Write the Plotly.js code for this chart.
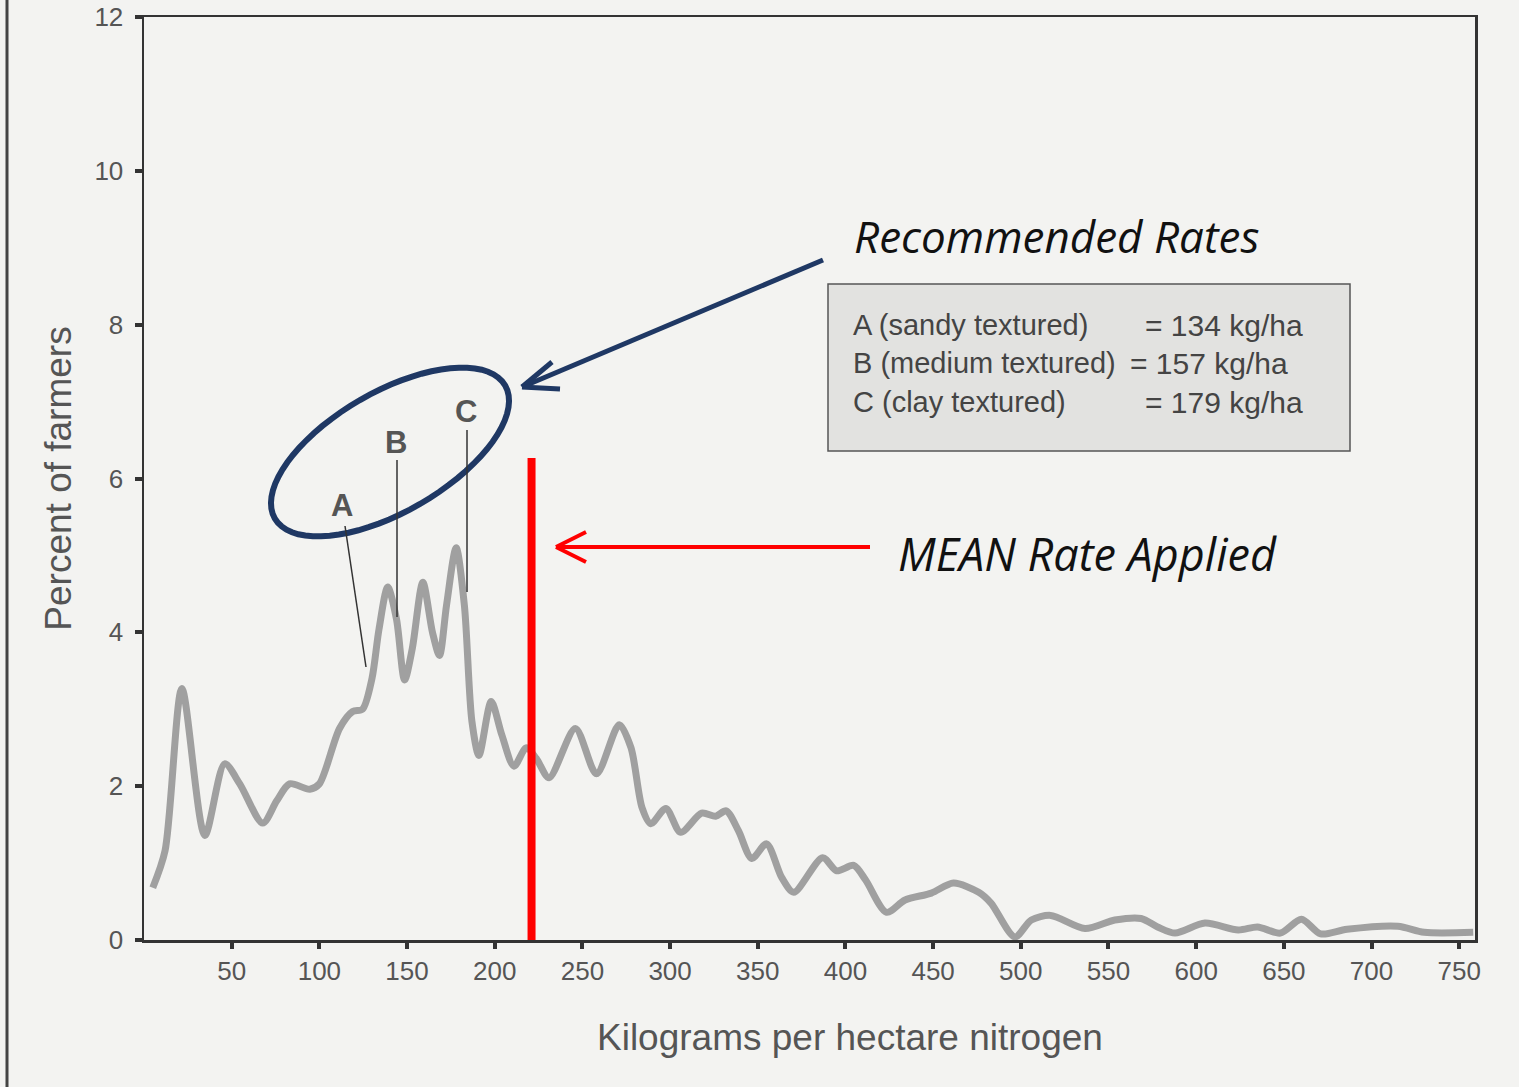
<!DOCTYPE html>
<html>
<head>
<meta charset="utf-8">
<script src="https://cdn.plot.ly/plotly-3.0.1.min.js"></script>
<style>html,body{margin:0;padding:0;background:#f3f3f1;}#chart{width:1519px;height:1087px;}</style>
</head>
<body>
<div id="chart"></div>
<script>
// Data
const nitrogen = [5, 12, 21.6, 34.7, 46, 54.6, 67.7, 75.7, 83, 94.5, 100, 111.5, 119, 124.6, 130, 134, 139, 144, 148.6, 153, 159, 164.5, 168.5, 172.5, 178, 182.7, 187, 191, 198, 204, 211, 218, 223.7, 231, 246, 258, 271, 277.7, 284, 289, 297.6, 306, 318, 326, 332, 339, 346.6, 355, 363.7, 370.5, 387, 395, 404.7, 411.5, 423.4, 434, 449, 461.6, 476, 483, 496.6, 506, 517, 536.6, 553.6, 568.6, 578, 588, 605, 624, 635, 648, 660, 671, 686, 715, 730, 758];
const percent = [0.68, 1.16, 3.27, 1.36, 2.29, 2.03, 1.52, 1.81, 2.03, 1.96, 2.03, 2.75, 2.97, 3.0, 3.40, 4.04, 4.59, 4.17, 3.38, 3.79, 4.65, 4.0, 3.7, 4.35, 5.10, 4.35, 2.84, 2.40, 3.1, 2.67, 2.26, 2.5, 2.36, 2.11, 2.75, 2.16, 2.80, 2.5, 1.72, 1.51, 1.71, 1.4, 1.65, 1.61, 1.68, 1.42, 1.06, 1.25, 0.81, 0.62, 1.07, 0.9, 0.97, 0.78, 0.36, 0.52, 0.61, 0.74, 0.62, 0.48, 0.04, 0.26, 0.32, 0.15, 0.26, 0.28, 0.17, 0.09, 0.22, 0.13, 0.17, 0.09, 0.27, 0.08, 0.14, 0.18, 0.10, 0.10];
const xTicks = [50, 100, 150, 200, 250, 300, 350, 400, 450, 500, 550, 600, 650, 700, 750];
const yTicks = [0, 2, 4, 6, 8, 10, 12];
const meanRate = 221;
const recLabels = ["A", "B", "C"];
const recRates = [134, 157, 179];
const recTextLeft = ["A (sandy textured)", "B (medium textured)", "C (clay textured)"];
const recTextRight = ["= 134 kg/ha", "= 157 kg/ha", "= 179 kg/ha"];
const xTitle = "Kilograms per hectare nitrogen";
const yTitle = "Percent of farmers";

// pixel helpers for decorations (plot area: x 144..1475, y T..940)
const L = 144, R = 1475, T = 17, B = 940, XMAX = 759, YMAX = 12;
const px2x = p => (p - L) / (R - L) * XMAX;
const py2y = p => (B - p) / (B - T) * YMAX;
const px2paper = p => (p - L) / (R - L);
const py2paper = p => (B - p) / (B - T);

function ellipsePath(cx, cy, a, b, deg) {
  const th = deg * Math.PI / 180;
  let d = "";
  for (let i = 0; i <= 72; i++) {
    const t = i / 72 * 2 * Math.PI;
    const ex = a * Math.cos(t), ey = b * Math.sin(t);
    const X = cx + ex * Math.cos(th) + ey * Math.sin(th);
    const Y = cy - ex * Math.sin(th) + ey * Math.cos(th);
    d += (i === 0 ? "M" : "L") + px2x(X).toFixed(3) + "," + py2y(Y).toFixed(3);
  }
  return d + "Z";
}
function line(x0, y0, x1, y1, color, w) {
  return {type: "line", xref: "x", yref: "y", x0: px2x(x0), y0: py2y(y0), x1: px2x(x1), y1: py2y(y1),
          line: {color: color, width: w}, layer: "above"};
}

const navy = "#1f3864";
const shapes = [
  {type: "line", xref: "x", yref: "y", x0: meanRate, x1: meanRate, y0: 0, y1: py2y(458), line: {color: "#ff0000", width: 8}},
  {type: "path", xref: "x", yref: "y", path: ellipsePath(390, 452, 133, 60, 30), line: {color: navy, width: 6}},
  line(823, 260, 522, 387, navy, 5),
  line(522, 387, 552, 362, navy, 5),
  line(522, 387, 560, 389, navy, 5),
  line(870, 547, 556, 547, "#ff0000", 4),
  line(556, 547, 586, 532, "#ff0000", 4),
  line(556, 547, 586, 562, "#ff0000", 4),
  line(345, 526, 366, 667, "#333", 1.5),
  line(397, 460, 397, 617, "#333", 1.5),
  line(467, 430, 467, 592, "#333", 1.5),
  {type: "rect", xref: "x", yref: "y", x0: px2x(828), x1: px2x(1350), y0: py2y(451), y1: py2y(284),
   fillcolor: "#e2e2e0", line: {color: "#555", width: 1.5}, layer: "above"},
  // scan border at the left edge of the page
  {type: "line", xref: "paper", yref: "paper", x0: px2paper(7), x1: px2paper(7), y0: py2paper(1087), y1: py2paper(0),
   line: {color: "#444", width: 3}}
];

const annFont = {family: "Liberation Sans, Arial, sans-serif", size: 29, color: "#444"};
const annotations = [];
const labelPos = [[342, 505], [396, 442], [466, 411]];
recLabels.forEach((t, i) => {
  annotations.push({xref: "x", yref: "y", x: px2x(labelPos[i][0]), y: py2y(labelPos[i][1]), text: "<b>" + t + "</b>",
    showarrow: false, font: {family: "Liberation Sans, Arial, sans-serif", size: 31, color: "#555"}});
});
const rowY = [325, 363, 402];
const eqX = [1143, 1128, 1143];
recTextLeft.forEach((t, i) => {
  annotations.push({xref: "x", yref: "y", x: px2x(851), y: py2y(rowY[i]), xanchor: "left", text: t, showarrow: false, font: annFont});
  annotations.push({xref: "x", yref: "y", x: px2x(eqX[i]), y: py2y(rowY[i]), xanchor: "left", text: recTextRight[i], showarrow: false,
    font: {family: "Liberation Sans, Arial, sans-serif", size: 30, color: "#444"}});
});
annotations.push({xref: "x", yref: "y", x: px2x(1056), y: py2y(236), text: "<i>Recommended Rates</i>", showarrow: false,
  font: {family: "Open Sans, Noto Sans, sans-serif", size: 44, color: "#111"}});
annotations.push({xref: "x", yref: "y", x: px2x(1087), y: py2y(553), text: "<i>MEAN Rate Applied</i>", showarrow: false,
  font: {family: "Open Sans, Noto Sans, sans-serif", size: 45, color: "#111"}});
annotations.push({xref: "x", yref: "paper", x: px2x(850), y: 0, yshift: -97, yanchor: "middle", text: xTitle, showarrow: false,
  font: {family: "Liberation Sans, Arial, sans-serif", size: 37, color: "#555"}});

const trace = {
  x: nitrogen, y: percent, type: "scatter", mode: "lines",
  line: {color: "#a0a0a0", width: 7, shape: "spline", smoothing: 0.8},
  hoverinfo: "skip"
};

const layout = {
  width: 1519, height: 1087,
  paper_bgcolor: "#f3f3f1", plot_bgcolor: "#f3f3f1",
  margin: {l: 144, r: 44, t: T, b: 147},
  showlegend: false,
  font: {family: "Liberation Sans, Arial, sans-serif", color: "#555"},
  xaxis: {
    range: [0, XMAX], tickvals: xTicks, ticks: "outside", ticklen: 6, tickwidth: 4, tickcolor: "#333",
    showgrid: false, zeroline: false, showline: true, linecolor: "#333", linewidth: 2.5, mirror: true,
    tickfont: {size: 26, color: "#555"}
  },
  yaxis: {
    range: [0, YMAX], tickvals: yTicks, ticks: "outside", ticklen: 7, tickwidth: 4, tickcolor: "#333",
    showgrid: false, zeroline: false, showline: true, linecolor: "#333", linewidth: 2.5, mirror: true,
    tickfont: {size: 26, color: "#555"}, ticklabelstandoff: 6, ticklabeloverflow: "allow",
    title: {text: yTitle, font: {size: 37, color: "#555"}, standoff: 12}
  },
  shapes: shapes,
  annotations: annotations
};

Plotly.newPlot("chart", [trace], layout, {displayModeBar: false, staticPlot: true});
</script>
</body>
</html>
